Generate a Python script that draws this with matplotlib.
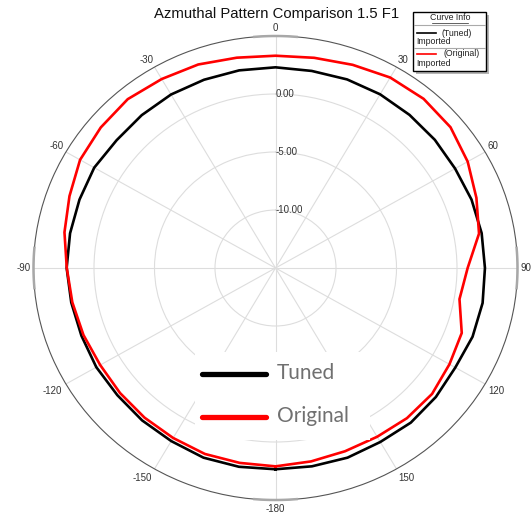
import numpy as np
import matplotlib
matplotlib.use("Agg")
import matplotlib.pyplot as plt
import matplotlib.ticker as mticker
from matplotlib.lines import Line2D
from matplotlib.patches import Rectangle

angles = list(range(-180, 181, 10))
tuned = [2.35, 2.40, 2.40, 2.23, 2.15, 2.06, 2.10, 2.07, 2.14, 2.26,
         2.24, 2.24, 2.30, 2.14, 2.20, 2.27, 2.27, 2.30, 2.30, 2.25,
         2.30, 2.29, 2.23, 2.19, 2.14, 2.24, 2.30, 2.31, 2.38, 2.33,
         2.16, 2.30, 2.40, 2.32, 2.40, 2.36, 2.35]
original = [2.10, 2.06, 2.06, 1.92, 1.84, 1.77, 1.73, 1.89, 2.05, 2.25,
            2.71, 3.12, 3.65, 3.85, 4.00, 3.81, 3.67, 3.41, 3.30, 3.40,
            3.64, 3.96, 4.04, 3.88, 3.34, 2.67, 2.08, 0.88, 0.44, 1.38,
            1.60, 1.89, 1.90, 1.80, 1.81, 1.93, 2.10]
ring_values = [-10, -5, 0]
ring_labels = ["-10.00", "-5.00", "0.00"]
theta_ticks = list(range(0, 360, 30))
theta_labels = ["0", "30", "60", "90", "120", "150", "-180", "-150", "-120", "-90", "-60", "-30"]

W, H = 531, 516
fig = plt.figure(figsize=(W / 100, H / 100), dpi=100)
ax = fig.add_axes([33.5 / W, 16 / H, 484 / W, 464 / H], projection="polar")
ax.set_aspect("auto")
ax.set_theta_zero_location("N")
ax.set_theta_direction(-1)
ax.set_ylim(-15, 5)

th = np.deg2rad(angles)
ax.plot(th, tuned, color="black", lw=1.9, zorder=5)
ax.plot(th, original, color="#ff0000", lw=1.9, zorder=6)

# grid
ax.set_thetagrids(theta_ticks, [""] * len(theta_ticks))
ax.set_yticks(ring_values)
ax.set_yticklabels([])
ax.grid(True, color="#dddddd", lw=0.8)
ax.tick_params(axis="y", length=0)
ax.tick_params(axis="x", which="major", direction="in", length=8.5, width=0.8,
               color="#333333")
ax.xaxis.set_minor_locator(mticker.MultipleLocator(np.pi / 36))
ax.tick_params(axis="x", which="minor", direction="in", length=3.5, width=0.6,
               color="#333333")
ax.spines["polar"].set_color("#555555")
ax.spines["polar"].set_linewidth(0.8)

# angle labels just outside the rim
for a, lab in zip(theta_ticks, theta_labels):
    s, c = np.sin(np.deg2rad(a)), np.cos(np.deg2rad(a))
    ha = "left" if s > 0.3 else ("right" if s < -0.3 else "center")
    va = "bottom" if c > 0.3 else ("top" if c < -0.3 else "center")
    gap = 2.0 if c > -0.3 else 3.0
    ax.annotate(lab, xy=(np.deg2rad(a), 5), xytext=(gap * s, gap * c),
                textcoords="offset points", ha=ha, va=va, fontsize=7,
                color="#333333", family="Liberation Sans", annotation_clip=False)

for v, lab in zip(ring_values, ring_labels):
    ax.text(0, v, lab, ha="left", va="center", fontsize=7, color="#333333",
            family="Liberation Sans", zorder=3)

# thicker grey marks on the cardinal directions
for c in [0, 90, 180, 270]:
    seg = np.deg2rad(np.linspace(c - 5, c + 5, 20))
    ax.plot(seg, np.full(seg.size, 5.0), color="#a8a8a8", lw=1.8,
            clip_on=False, zorder=4)

fig.text(277 / W, 1 - 14 / H, "Azmuthal Pattern Comparison 1.5 F1",
         ha="center", va="center", fontsize=10.7, family="Liberation Sans",
         color="#111111")

# Curve Info box
def fx(x):
    return x / W

def fy(y):
    return 1 - y / H

fig.patches.append(Rectangle((fx(416), fy(74)), 73 / W, 59 / H,
                             transform=fig.transFigure, facecolor="#b5b5b5",
                             edgecolor="none", zorder=2))
fig.patches.append(Rectangle((fx(413), fy(71)), 73 / W, 59 / H,
                             transform=fig.transFigure, facecolor="white",
                             edgecolor="black", lw=1.0, zorder=3))
for yy in [25, 48]:
    fig.lines.append(Line2D([fx(414), fx(485)], [fy(yy), fy(yy)],
                            transform=fig.transFigure, color="#aaaaaa", lw=0.8, zorder=4))
small = dict(fontsize=6.3, family="Liberation Sans", color="#222222", zorder=5)
fig.text(fx(450), fy(18), "Curve Info", ha="center", va="center", **small)
fig.lines.append(Line2D([fx(432), fx(468)], [fy(23), fy(23)],
                        transform=fig.transFigure, color="#222222", lw=0.5, zorder=5))
fig.lines.append(Line2D([fx(417), fx(436)], [fy(33), fy(33)],
                        transform=fig.transFigure, color="black", lw=1.2, zorder=5))
fig.text(fx(442), fy(33), "(Tuned)", ha="left", va="center", **small)
fig.text(fx(416), fy(42), "Imported", ha="left", va="center", **small)
fig.lines.append(Line2D([fx(417), fx(436)], [fy(54), fy(54)],
                        transform=fig.transFigure, color="#ff0000", lw=1.2, zorder=5))
fig.text(fx(443), fy(54), "(Original)", ha="left", va="center", **small)
fig.text(fx(416), fy(64), "Imported", ha="left", va="center", **small)

# overlay legend
fig.patches.append(Rectangle((fx(195), fy(440)), 175 / W, 88 / H,
                             transform=fig.transFigure, facecolor="white",
                             edgecolor="none", zorder=2))
big = dict(fontsize=15, family="Lato", color="#707070", zorder=5)
fig.lines.append(Line2D([fx(202), fx(266)], [fy(374), fy(374)],
                        transform=fig.transFigure, color="black", lw=3.8,
                        solid_capstyle="round", zorder=5))
fig.text(fx(277), fy(373), "Tuned", ha="left", va="center", **big)
fig.lines.append(Line2D([fx(202), fx(266)], [fy(417), fy(417)],
                        transform=fig.transFigure, color="#ff0000", lw=3.8,
                        solid_capstyle="round", zorder=5))
fig.text(fx(277), fy(416), "Original", ha="left", va="center", **big)

fig.savefig("out.png", dpi=100)
